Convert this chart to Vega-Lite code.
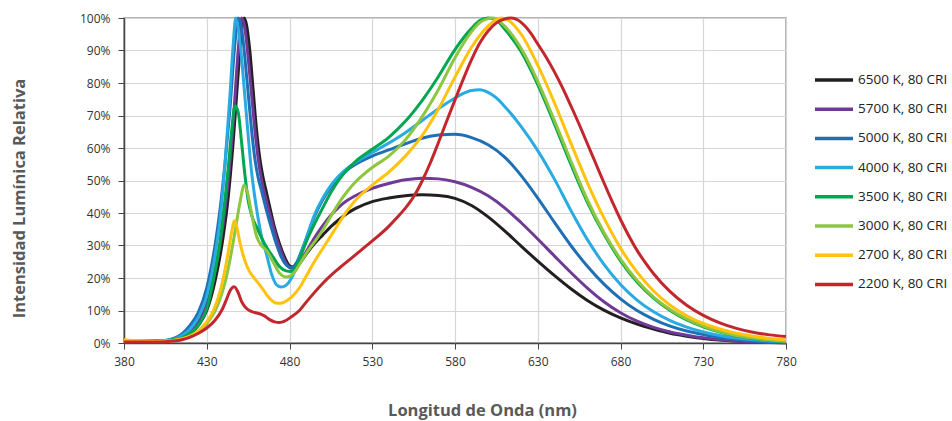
{
  "$schema": "https://vega.github.io/schema/vega-lite/v6.json",
  "width": 662,
  "height": 325,
  "autosize": {"type": "none"},
  "padding": {"left": 124, "top": 18, "right": 166, "bottom": 78},
  "background": "white",
  "config": {
    "view": {"stroke": "#9a9a9a", "strokeWidth": 1.5},
    "font": "Open Sans",
    "axis": {
      "labelFont": "Open Sans", "labelFontSize": 12, "labelColor": "#333333",
      "titleFont": "Open Sans", "titleFontSize": 16.5, "titleFontWeight": "bold", "titleColor": "#595959",
      "domainColor": "#444444", "domainWidth": 1.5, "tickColor": "#444444", "tickSize": 6,
      "gridColor": "#d6d6d6", "gridWidth": 1.2
    },
    "legend": {"labelFont": "Open Sans", "labelFontSize": 13.5, "labelColor": "#222222"}
  },
  "data": {"values": [
    {"s":"6500 K, 80 CRI","w":380,"v":0.4},{"s":"6500 K, 80 CRI","w":390,"v":0.4},{"s":"6500 K, 80 CRI","w":400,"v":0.5},{"s":"6500 K, 80 CRI","w":405,"v":0.6},{"s":"6500 K, 80 CRI","w":410,"v":0.9},{"s":"6500 K, 80 CRI","w":415,"v":1.5},{"s":"6500 K, 80 CRI","w":420,"v":2.8},{"s":"6500 K, 80 CRI","w":425,"v":5.5},{"s":"6500 K, 80 CRI","w":430,"v":10},{"s":"6500 K, 80 CRI","w":435,"v":19},{"s":"6500 K, 80 CRI","w":440,"v":33},{"s":"6500 K, 80 CRI","w":443,"v":45},{"s":"6500 K, 80 CRI","w":446,"v":62},{"s":"6500 K, 80 CRI","w":449,"v":83},{"s":"6500 K, 80 CRI","w":451,"v":96},{"s":"6500 K, 80 CRI","w":452.5,"v":100},{"s":"6500 K, 80 CRI","w":454,"v":98},{"s":"6500 K, 80 CRI","w":456,"v":90},{"s":"6500 K, 80 CRI","w":458,"v":78},{"s":"6500 K, 80 CRI","w":460,"v":66},{"s":"6500 K, 80 CRI","w":462,"v":57},{"s":"6500 K, 80 CRI","w":464,"v":51},{"s":"6500 K, 80 CRI","w":466,"v":46.5},{"s":"6500 K, 80 CRI","w":468,"v":42},{"s":"6500 K, 80 CRI","w":471,"v":35.5},{"s":"6500 K, 80 CRI","w":474,"v":30.5},{"s":"6500 K, 80 CRI","w":477,"v":26.5},{"s":"6500 K, 80 CRI","w":480,"v":23.8},{"s":"6500 K, 80 CRI","w":483,"v":23.3},{"s":"6500 K, 80 CRI","w":486,"v":24.5},{"s":"6500 K, 80 CRI","w":490,"v":27.3},{"s":"6500 K, 80 CRI","w":495,"v":30.5},{"s":"6500 K, 80 CRI","w":500,"v":33.2},{"s":"6500 K, 80 CRI","w":505,"v":35.8},{"s":"6500 K, 80 CRI","w":510,"v":38},{"s":"6500 K, 80 CRI","w":515,"v":39.9},{"s":"6500 K, 80 CRI","w":520,"v":41.4},{"s":"6500 K, 80 CRI","w":530,"v":43.5},{"s":"6500 K, 80 CRI","w":540,"v":44.6},{"s":"6500 K, 80 CRI","w":550,"v":45.3},{"s":"6500 K, 80 CRI","w":560,"v":45.6},{"s":"6500 K, 80 CRI","w":570,"v":45.4},{"s":"6500 K, 80 CRI","w":580,"v":44.5},{"s":"6500 K, 80 CRI","w":590,"v":42.3},{"s":"6500 K, 80 CRI","w":600,"v":38.8},{"s":"6500 K, 80 CRI","w":610,"v":34.5},{"s":"6500 K, 80 CRI","w":620,"v":29.8},{"s":"6500 K, 80 CRI","w":630,"v":25.2},{"s":"6500 K, 80 CRI","w":640,"v":20.8},{"s":"6500 K, 80 CRI","w":650,"v":16.7},{"s":"6500 K, 80 CRI","w":660,"v":13.1},{"s":"6500 K, 80 CRI","w":670,"v":10.1},{"s":"6500 K, 80 CRI","w":680,"v":7.7},{"s":"6500 K, 80 CRI","w":690,"v":5.8},{"s":"6500 K, 80 CRI","w":700,"v":4.3},{"s":"6500 K, 80 CRI","w":710,"v":3},{"s":"6500 K, 80 CRI","w":720,"v":2.1},{"s":"6500 K, 80 CRI","w":730,"v":1.4},{"s":"6500 K, 80 CRI","w":740,"v":0.9},{"s":"6500 K, 80 CRI","w":750,"v":0.6},{"s":"6500 K, 80 CRI","w":760,"v":0.4},{"s":"6500 K, 80 CRI","w":770,"v":0.2},{"s":"6500 K, 80 CRI","w":780,"v":0.1},

    {"s":"5700 K, 80 CRI","w":380,"v":0.4},{"s":"5700 K, 80 CRI","w":390,"v":0.4},{"s":"5700 K, 80 CRI","w":400,"v":0.5},{"s":"5700 K, 80 CRI","w":405,"v":0.6},{"s":"5700 K, 80 CRI","w":410,"v":1},{"s":"5700 K, 80 CRI","w":415,"v":1.8},{"s":"5700 K, 80 CRI","w":420,"v":3.3},{"s":"5700 K, 80 CRI","w":425,"v":6.5},{"s":"5700 K, 80 CRI","w":430,"v":12},{"s":"5700 K, 80 CRI","w":435,"v":22},{"s":"5700 K, 80 CRI","w":440,"v":37},{"s":"5700 K, 80 CRI","w":443,"v":50},{"s":"5700 K, 80 CRI","w":446,"v":68},{"s":"5700 K, 80 CRI","w":449,"v":90},{"s":"5700 K, 80 CRI","w":451,"v":100},{"s":"5700 K, 80 CRI","w":453,"v":97},{"s":"5700 K, 80 CRI","w":455,"v":88},{"s":"5700 K, 80 CRI","w":457,"v":77},{"s":"5700 K, 80 CRI","w":459,"v":66},{"s":"5700 K, 80 CRI","w":461,"v":57},{"s":"5700 K, 80 CRI","w":463,"v":50.5},{"s":"5700 K, 80 CRI","w":466,"v":44},{"s":"5700 K, 80 CRI","w":469,"v":38},{"s":"5700 K, 80 CRI","w":472,"v":32.5},{"s":"5700 K, 80 CRI","w":475,"v":28},{"s":"5700 K, 80 CRI","w":478,"v":24.5},{"s":"5700 K, 80 CRI","w":481,"v":23},{"s":"5700 K, 80 CRI","w":484,"v":23.5},{"s":"5700 K, 80 CRI","w":487,"v":25.5},{"s":"5700 K, 80 CRI","w":490,"v":28},{"s":"5700 K, 80 CRI","w":495,"v":32.3},{"s":"5700 K, 80 CRI","w":500,"v":36},{"s":"5700 K, 80 CRI","w":505,"v":39.3},{"s":"5700 K, 80 CRI","w":510,"v":41.9},{"s":"5700 K, 80 CRI","w":515,"v":43.9},{"s":"5700 K, 80 CRI","w":520,"v":45.4},{"s":"5700 K, 80 CRI","w":530,"v":47.6},{"s":"5700 K, 80 CRI","w":540,"v":49.1},{"s":"5700 K, 80 CRI","w":550,"v":50.2},{"s":"5700 K, 80 CRI","w":560,"v":50.7},{"s":"5700 K, 80 CRI","w":570,"v":50.5},{"s":"5700 K, 80 CRI","w":580,"v":49.6},{"s":"5700 K, 80 CRI","w":590,"v":47.9},{"s":"5700 K, 80 CRI","w":600,"v":45.3},{"s":"5700 K, 80 CRI","w":610,"v":41.6},{"s":"5700 K, 80 CRI","w":620,"v":37},{"s":"5700 K, 80 CRI","w":630,"v":32},{"s":"5700 K, 80 CRI","w":640,"v":26.8},{"s":"5700 K, 80 CRI","w":650,"v":21.7},{"s":"5700 K, 80 CRI","w":660,"v":16.9},{"s":"5700 K, 80 CRI","w":670,"v":12.7},{"s":"5700 K, 80 CRI","w":680,"v":9.3},{"s":"5700 K, 80 CRI","w":690,"v":6.7},{"s":"5700 K, 80 CRI","w":700,"v":4.8},{"s":"5700 K, 80 CRI","w":710,"v":3.4},{"s":"5700 K, 80 CRI","w":720,"v":2.4},{"s":"5700 K, 80 CRI","w":730,"v":1.6},{"s":"5700 K, 80 CRI","w":740,"v":1},{"s":"5700 K, 80 CRI","w":750,"v":0.6},{"s":"5700 K, 80 CRI","w":760,"v":0.3},{"s":"5700 K, 80 CRI","w":770,"v":0.15},{"s":"5700 K, 80 CRI","w":780,"v":0.05},

    {"s":"5000 K, 80 CRI","w":380,"v":0.5},{"s":"5000 K, 80 CRI","w":390,"v":0.5},{"s":"5000 K, 80 CRI","w":400,"v":0.6},{"s":"5000 K, 80 CRI","w":405,"v":0.8},{"s":"5000 K, 80 CRI","w":410,"v":1.4},{"s":"5000 K, 80 CRI","w":415,"v":2.8},{"s":"5000 K, 80 CRI","w":420,"v":5.5},{"s":"5000 K, 80 CRI","w":425,"v":9.5},{"s":"5000 K, 80 CRI","w":430,"v":17},{"s":"5000 K, 80 CRI","w":435,"v":30},{"s":"5000 K, 80 CRI","w":438,"v":41},{"s":"5000 K, 80 CRI","w":441,"v":55},{"s":"5000 K, 80 CRI","w":444,"v":72},{"s":"5000 K, 80 CRI","w":447,"v":92},{"s":"5000 K, 80 CRI","w":449,"v":100},{"s":"5000 K, 80 CRI","w":451,"v":97},{"s":"5000 K, 80 CRI","w":453,"v":88},{"s":"5000 K, 80 CRI","w":455,"v":77},{"s":"5000 K, 80 CRI","w":457,"v":66},{"s":"5000 K, 80 CRI","w":459,"v":57},{"s":"5000 K, 80 CRI","w":461,"v":51},{"s":"5000 K, 80 CRI","w":463,"v":47},{"s":"5000 K, 80 CRI","w":466,"v":41},{"s":"5000 K, 80 CRI","w":469,"v":35.5},{"s":"5000 K, 80 CRI","w":472,"v":30.5},{"s":"5000 K, 80 CRI","w":475,"v":26.5},{"s":"5000 K, 80 CRI","w":478,"v":24},{"s":"5000 K, 80 CRI","w":481,"v":23.2},{"s":"5000 K, 80 CRI","w":484,"v":24.5},{"s":"5000 K, 80 CRI","w":487,"v":28},{"s":"5000 K, 80 CRI","w":490,"v":32},{"s":"5000 K, 80 CRI","w":495,"v":38.8},{"s":"5000 K, 80 CRI","w":500,"v":44},{"s":"5000 K, 80 CRI","w":505,"v":48},{"s":"5000 K, 80 CRI","w":510,"v":51},{"s":"5000 K, 80 CRI","w":515,"v":53.3},{"s":"5000 K, 80 CRI","w":520,"v":55},{"s":"5000 K, 80 CRI","w":530,"v":57.5},{"s":"5000 K, 80 CRI","w":540,"v":59.4},{"s":"5000 K, 80 CRI","w":550,"v":61.3},{"s":"5000 K, 80 CRI","w":560,"v":63},{"s":"5000 K, 80 CRI","w":570,"v":64},{"s":"5000 K, 80 CRI","w":580,"v":64.2},{"s":"5000 K, 80 CRI","w":590,"v":63.2},{"s":"5000 K, 80 CRI","w":600,"v":61},{"s":"5000 K, 80 CRI","w":610,"v":57.2},{"s":"5000 K, 80 CRI","w":620,"v":51.5},{"s":"5000 K, 80 CRI","w":630,"v":44.6},{"s":"5000 K, 80 CRI","w":640,"v":37.2},{"s":"5000 K, 80 CRI","w":650,"v":30},{"s":"5000 K, 80 CRI","w":660,"v":23.6},{"s":"5000 K, 80 CRI","w":670,"v":18.1},{"s":"5000 K, 80 CRI","w":680,"v":13.6},{"s":"5000 K, 80 CRI","w":690,"v":10},{"s":"5000 K, 80 CRI","w":700,"v":7.3},{"s":"5000 K, 80 CRI","w":710,"v":5.2},{"s":"5000 K, 80 CRI","w":720,"v":3.7},{"s":"5000 K, 80 CRI","w":730,"v":2.6},{"s":"5000 K, 80 CRI","w":740,"v":1.7},{"s":"5000 K, 80 CRI","w":750,"v":1.1},{"s":"5000 K, 80 CRI","w":760,"v":0.6},{"s":"5000 K, 80 CRI","w":770,"v":0.3},{"s":"5000 K, 80 CRI","w":780,"v":0.2},

    {"s":"4000 K, 80 CRI","w":380,"v":0.5},{"s":"4000 K, 80 CRI","w":390,"v":0.5},{"s":"4000 K, 80 CRI","w":400,"v":0.6},{"s":"4000 K, 80 CRI","w":405,"v":0.8},{"s":"4000 K, 80 CRI","w":410,"v":1.2},{"s":"4000 K, 80 CRI","w":415,"v":2.3},{"s":"4000 K, 80 CRI","w":420,"v":4.3},{"s":"4000 K, 80 CRI","w":425,"v":8},{"s":"4000 K, 80 CRI","w":430,"v":14.5},{"s":"4000 K, 80 CRI","w":435,"v":27},{"s":"4000 K, 80 CRI","w":438,"v":38},{"s":"4000 K, 80 CRI","w":441,"v":55},{"s":"4000 K, 80 CRI","w":444,"v":76},{"s":"4000 K, 80 CRI","w":446,"v":92},{"s":"4000 K, 80 CRI","w":447.5,"v":100},{"s":"4000 K, 80 CRI","w":449,"v":97},{"s":"4000 K, 80 CRI","w":451,"v":88},{"s":"4000 K, 80 CRI","w":453,"v":76},{"s":"4000 K, 80 CRI","w":455,"v":64},{"s":"4000 K, 80 CRI","w":457,"v":53},{"s":"4000 K, 80 CRI","w":459,"v":45},{"s":"4000 K, 80 CRI","w":461,"v":38.5},{"s":"4000 K, 80 CRI","w":463,"v":33},{"s":"4000 K, 80 CRI","w":466,"v":27.5},{"s":"4000 K, 80 CRI","w":469,"v":21.5},{"s":"4000 K, 80 CRI","w":472,"v":18},{"s":"4000 K, 80 CRI","w":475,"v":17.2},{"s":"4000 K, 80 CRI","w":478,"v":17.8},{"s":"4000 K, 80 CRI","w":481,"v":19.8},{"s":"4000 K, 80 CRI","w":484,"v":23},{"s":"4000 K, 80 CRI","w":487,"v":27.5},{"s":"4000 K, 80 CRI","w":490,"v":32},{"s":"4000 K, 80 CRI","w":495,"v":39.3},{"s":"4000 K, 80 CRI","w":500,"v":44.5},{"s":"4000 K, 80 CRI","w":505,"v":48.5},{"s":"4000 K, 80 CRI","w":510,"v":51.5},{"s":"4000 K, 80 CRI","w":515,"v":53.8},{"s":"4000 K, 80 CRI","w":520,"v":55.6},{"s":"4000 K, 80 CRI","w":530,"v":58.6},{"s":"4000 K, 80 CRI","w":540,"v":61.5},{"s":"4000 K, 80 CRI","w":550,"v":64.7},{"s":"4000 K, 80 CRI","w":560,"v":68.4},{"s":"4000 K, 80 CRI","w":570,"v":72.1},{"s":"4000 K, 80 CRI","w":580,"v":75.4},{"s":"4000 K, 80 CRI","w":585,"v":76.8},{"s":"4000 K, 80 CRI","w":590,"v":77.7},{"s":"4000 K, 80 CRI","w":595,"v":77.9},{"s":"4000 K, 80 CRI","w":600,"v":77.1},{"s":"4000 K, 80 CRI","w":605,"v":75.4},{"s":"4000 K, 80 CRI","w":610,"v":72.8},{"s":"4000 K, 80 CRI","w":620,"v":66.6},{"s":"4000 K, 80 CRI","w":630,"v":59.2},{"s":"4000 K, 80 CRI","w":640,"v":50.5},{"s":"4000 K, 80 CRI","w":650,"v":40.8},{"s":"4000 K, 80 CRI","w":660,"v":31.8},{"s":"4000 K, 80 CRI","w":670,"v":24.2},{"s":"4000 K, 80 CRI","w":680,"v":18},{"s":"4000 K, 80 CRI","w":690,"v":13.2},{"s":"4000 K, 80 CRI","w":700,"v":9.6},{"s":"4000 K, 80 CRI","w":710,"v":6.9},{"s":"4000 K, 80 CRI","w":720,"v":4.9},{"s":"4000 K, 80 CRI","w":730,"v":3.4},{"s":"4000 K, 80 CRI","w":740,"v":2.3},{"s":"4000 K, 80 CRI","w":750,"v":1.5},{"s":"4000 K, 80 CRI","w":760,"v":1},{"s":"4000 K, 80 CRI","w":770,"v":0.6},{"s":"4000 K, 80 CRI","w":780,"v":0.4},

    {"s":"3500 K, 80 CRI","w":380,"v":0.8},{"s":"3500 K, 80 CRI","w":390,"v":0.6},{"s":"3500 K, 80 CRI","w":400,"v":0.6},{"s":"3500 K, 80 CRI","w":405,"v":0.7},{"s":"3500 K, 80 CRI","w":410,"v":1},{"s":"3500 K, 80 CRI","w":415,"v":1.6},{"s":"3500 K, 80 CRI","w":420,"v":3},{"s":"3500 K, 80 CRI","w":425,"v":5.5},{"s":"3500 K, 80 CRI","w":430,"v":10.5},{"s":"3500 K, 80 CRI","w":435,"v":22},{"s":"3500 K, 80 CRI","w":438,"v":31},{"s":"3500 K, 80 CRI","w":441,"v":44},{"s":"3500 K, 80 CRI","w":443,"v":54},{"s":"3500 K, 80 CRI","w":445,"v":65},{"s":"3500 K, 80 CRI","w":447,"v":73},{"s":"3500 K, 80 CRI","w":449,"v":71},{"s":"3500 K, 80 CRI","w":451,"v":62},{"s":"3500 K, 80 CRI","w":453,"v":52},{"s":"3500 K, 80 CRI","w":455,"v":44},{"s":"3500 K, 80 CRI","w":457,"v":39.5},{"s":"3500 K, 80 CRI","w":460,"v":35.8},{"s":"3500 K, 80 CRI","w":463,"v":32.5},{"s":"3500 K, 80 CRI","w":466,"v":29.6},{"s":"3500 K, 80 CRI","w":470,"v":26.5},{"s":"3500 K, 80 CRI","w":474,"v":23.5},{"s":"3500 K, 80 CRI","w":478,"v":22.2},{"s":"3500 K, 80 CRI","w":481,"v":22},{"s":"3500 K, 80 CRI","w":484,"v":23.5},{"s":"3500 K, 80 CRI","w":487,"v":27},{"s":"3500 K, 80 CRI","w":490,"v":31},{"s":"3500 K, 80 CRI","w":495,"v":36.5},{"s":"3500 K, 80 CRI","w":500,"v":41.5},{"s":"3500 K, 80 CRI","w":505,"v":46.3},{"s":"3500 K, 80 CRI","w":510,"v":50.3},{"s":"3500 K, 80 CRI","w":515,"v":53.4},{"s":"3500 K, 80 CRI","w":520,"v":55.9},{"s":"3500 K, 80 CRI","w":530,"v":59.6},{"s":"3500 K, 80 CRI","w":540,"v":63.3},{"s":"3500 K, 80 CRI","w":550,"v":68.2},{"s":"3500 K, 80 CRI","w":560,"v":74.5},{"s":"3500 K, 80 CRI","w":570,"v":82},{"s":"3500 K, 80 CRI","w":580,"v":90.3},{"s":"3500 K, 80 CRI","w":590,"v":96.8},{"s":"3500 K, 80 CRI","w":595,"v":99.2},{"s":"3500 K, 80 CRI","w":600,"v":100},{"s":"3500 K, 80 CRI","w":605,"v":99.3},{"s":"3500 K, 80 CRI","w":610,"v":96.6},{"s":"3500 K, 80 CRI","w":620,"v":89.6},{"s":"3500 K, 80 CRI","w":630,"v":79.5},{"s":"3500 K, 80 CRI","w":640,"v":67.5},{"s":"3500 K, 80 CRI","w":650,"v":55},{"s":"3500 K, 80 CRI","w":660,"v":43.3},{"s":"3500 K, 80 CRI","w":670,"v":33.5},{"s":"3500 K, 80 CRI","w":680,"v":25.3},{"s":"3500 K, 80 CRI","w":690,"v":18.8},{"s":"3500 K, 80 CRI","w":700,"v":13.8},{"s":"3500 K, 80 CRI","w":710,"v":10},{"s":"3500 K, 80 CRI","w":720,"v":7.1},{"s":"3500 K, 80 CRI","w":730,"v":5},{"s":"3500 K, 80 CRI","w":740,"v":3.4},{"s":"3500 K, 80 CRI","w":750,"v":2.2},{"s":"3500 K, 80 CRI","w":760,"v":1.4},{"s":"3500 K, 80 CRI","w":770,"v":0.8},{"s":"3500 K, 80 CRI","w":780,"v":0.4},

    {"s":"3000 K, 80 CRI","w":380,"v":0.6},{"s":"3000 K, 80 CRI","w":390,"v":0.5},{"s":"3000 K, 80 CRI","w":400,"v":0.5},{"s":"3000 K, 80 CRI","w":405,"v":0.6},{"s":"3000 K, 80 CRI","w":410,"v":0.8},{"s":"3000 K, 80 CRI","w":415,"v":1.2},{"s":"3000 K, 80 CRI","w":420,"v":2},{"s":"3000 K, 80 CRI","w":425,"v":3.5},{"s":"3000 K, 80 CRI","w":430,"v":6},{"s":"3000 K, 80 CRI","w":435,"v":9.8},{"s":"3000 K, 80 CRI","w":438,"v":13.5},{"s":"3000 K, 80 CRI","w":441,"v":18.5},{"s":"3000 K, 80 CRI","w":444,"v":25.5},{"s":"3000 K, 80 CRI","w":447,"v":34},{"s":"3000 K, 80 CRI","w":450,"v":43},{"s":"3000 K, 80 CRI","w":452.7,"v":48.6},{"s":"3000 K, 80 CRI","w":455,"v":45.5},{"s":"3000 K, 80 CRI","w":457,"v":40},{"s":"3000 K, 80 CRI","w":460,"v":33},{"s":"3000 K, 80 CRI","w":463,"v":30},{"s":"3000 K, 80 CRI","w":466,"v":28.5},{"s":"3000 K, 80 CRI","w":470,"v":25},{"s":"3000 K, 80 CRI","w":474,"v":21.5},{"s":"3000 K, 80 CRI","w":478,"v":20.3},{"s":"3000 K, 80 CRI","w":481,"v":20.8},{"s":"3000 K, 80 CRI","w":484,"v":22.5},{"s":"3000 K, 80 CRI","w":487,"v":25},{"s":"3000 K, 80 CRI","w":490,"v":27.5},{"s":"3000 K, 80 CRI","w":495,"v":31},{"s":"3000 K, 80 CRI","w":500,"v":34.7},{"s":"3000 K, 80 CRI","w":505,"v":39},{"s":"3000 K, 80 CRI","w":510,"v":43.2},{"s":"3000 K, 80 CRI","w":515,"v":46.7},{"s":"3000 K, 80 CRI","w":520,"v":49.6},{"s":"3000 K, 80 CRI","w":530,"v":54},{"s":"3000 K, 80 CRI","w":540,"v":57.5},{"s":"3000 K, 80 CRI","w":550,"v":62.5},{"s":"3000 K, 80 CRI","w":560,"v":69.5},{"s":"3000 K, 80 CRI","w":570,"v":78},{"s":"3000 K, 80 CRI","w":580,"v":87.8},{"s":"3000 K, 80 CRI","w":590,"v":95.8},{"s":"3000 K, 80 CRI","w":595,"v":98.6},{"s":"3000 K, 80 CRI","w":600,"v":99.8},{"s":"3000 K, 80 CRI","w":603,"v":100},{"s":"3000 K, 80 CRI","w":610,"v":97.5},{"s":"3000 K, 80 CRI","w":620,"v":90.6},{"s":"3000 K, 80 CRI","w":630,"v":80.5},{"s":"3000 K, 80 CRI","w":640,"v":68.5},{"s":"3000 K, 80 CRI","w":650,"v":56},{"s":"3000 K, 80 CRI","w":660,"v":44},{"s":"3000 K, 80 CRI","w":670,"v":34},{"s":"3000 K, 80 CRI","w":680,"v":25.8},{"s":"3000 K, 80 CRI","w":690,"v":19.2},{"s":"3000 K, 80 CRI","w":700,"v":14.1},{"s":"3000 K, 80 CRI","w":710,"v":10.3},{"s":"3000 K, 80 CRI","w":720,"v":7.4},{"s":"3000 K, 80 CRI","w":730,"v":5.2},{"s":"3000 K, 80 CRI","w":740,"v":3.5},{"s":"3000 K, 80 CRI","w":750,"v":2.3},{"s":"3000 K, 80 CRI","w":760,"v":1.5},{"s":"3000 K, 80 CRI","w":770,"v":0.9},{"s":"3000 K, 80 CRI","w":780,"v":0.5},

    {"s":"2700 K, 80 CRI","w":380,"v":1},{"s":"2700 K, 80 CRI","w":390,"v":0.6},{"s":"2700 K, 80 CRI","w":400,"v":0.5},{"s":"2700 K, 80 CRI","w":405,"v":0.6},{"s":"2700 K, 80 CRI","w":410,"v":0.8},{"s":"2700 K, 80 CRI","w":415,"v":1.3},{"s":"2700 K, 80 CRI","w":420,"v":2.2},{"s":"2700 K, 80 CRI","w":425,"v":3.8},{"s":"2700 K, 80 CRI","w":430,"v":6.5},{"s":"2700 K, 80 CRI","w":434,"v":10},{"s":"2700 K, 80 CRI","w":437,"v":14},{"s":"2700 K, 80 CRI","w":440,"v":20},{"s":"2700 K, 80 CRI","w":443,"v":28},{"s":"2700 K, 80 CRI","w":445,"v":34},{"s":"2700 K, 80 CRI","w":446.6,"v":37.6},{"s":"2700 K, 80 CRI","w":448,"v":36},{"s":"2700 K, 80 CRI","w":450,"v":31},{"s":"2700 K, 80 CRI","w":452,"v":27},{"s":"2700 K, 80 CRI","w":455,"v":22.8},{"s":"2700 K, 80 CRI","w":458,"v":20.4},{"s":"2700 K, 80 CRI","w":461,"v":18.5},{"s":"2700 K, 80 CRI","w":464,"v":16.5},{"s":"2700 K, 80 CRI","w":467,"v":14.3},{"s":"2700 K, 80 CRI","w":470,"v":12.8},{"s":"2700 K, 80 CRI","w":473,"v":12.2},{"s":"2700 K, 80 CRI","w":476,"v":12.4},{"s":"2700 K, 80 CRI","w":479,"v":13.2},{"s":"2700 K, 80 CRI","w":482,"v":14.5},{"s":"2700 K, 80 CRI","w":486,"v":17},{"s":"2700 K, 80 CRI","w":490,"v":20.5},{"s":"2700 K, 80 CRI","w":495,"v":25},{"s":"2700 K, 80 CRI","w":500,"v":29},{"s":"2700 K, 80 CRI","w":505,"v":33},{"s":"2700 K, 80 CRI","w":510,"v":37},{"s":"2700 K, 80 CRI","w":515,"v":40.8},{"s":"2700 K, 80 CRI","w":520,"v":44},{"s":"2700 K, 80 CRI","w":530,"v":48.6},{"s":"2700 K, 80 CRI","w":540,"v":52.6},{"s":"2700 K, 80 CRI","w":550,"v":57.5},{"s":"2700 K, 80 CRI","w":560,"v":63.7},{"s":"2700 K, 80 CRI","w":570,"v":72},{"s":"2700 K, 80 CRI","w":580,"v":81.8},{"s":"2700 K, 80 CRI","w":590,"v":91},{"s":"2700 K, 80 CRI","w":600,"v":97.5},{"s":"2700 K, 80 CRI","w":605,"v":99.5},{"s":"2700 K, 80 CRI","w":608,"v":100},{"s":"2700 K, 80 CRI","w":612,"v":99.4},{"s":"2700 K, 80 CRI","w":620,"v":95},{"s":"2700 K, 80 CRI","w":630,"v":85.5},{"s":"2700 K, 80 CRI","w":640,"v":74},{"s":"2700 K, 80 CRI","w":650,"v":61.5},{"s":"2700 K, 80 CRI","w":660,"v":49.3},{"s":"2700 K, 80 CRI","w":670,"v":38.5},{"s":"2700 K, 80 CRI","w":680,"v":29.2},{"s":"2700 K, 80 CRI","w":690,"v":21.8},{"s":"2700 K, 80 CRI","w":700,"v":16},{"s":"2700 K, 80 CRI","w":710,"v":11.6},{"s":"2700 K, 80 CRI","w":720,"v":8.4},{"s":"2700 K, 80 CRI","w":730,"v":6},{"s":"2700 K, 80 CRI","w":740,"v":4.3},{"s":"2700 K, 80 CRI","w":750,"v":3},{"s":"2700 K, 80 CRI","w":760,"v":2.1},{"s":"2700 K, 80 CRI","w":770,"v":1.4},{"s":"2700 K, 80 CRI","w":780,"v":1},

    {"s":"2200 K, 80 CRI","w":380,"v":0.3},{"s":"2200 K, 80 CRI","w":390,"v":0.3},{"s":"2200 K, 80 CRI","w":400,"v":0.3},{"s":"2200 K, 80 CRI","w":405,"v":0.4},{"s":"2200 K, 80 CRI","w":410,"v":0.6},{"s":"2200 K, 80 CRI","w":415,"v":1},{"s":"2200 K, 80 CRI","w":420,"v":1.8},{"s":"2200 K, 80 CRI","w":425,"v":3},{"s":"2200 K, 80 CRI","w":430,"v":4.6},{"s":"2200 K, 80 CRI","w":435,"v":7},{"s":"2200 K, 80 CRI","w":439,"v":10},{"s":"2200 K, 80 CRI","w":442,"v":13.5},{"s":"2200 K, 80 CRI","w":444,"v":16},{"s":"2200 K, 80 CRI","w":446.6,"v":17.3},{"s":"2200 K, 80 CRI","w":449,"v":15.5},{"s":"2200 K, 80 CRI","w":451,"v":12.8},{"s":"2200 K, 80 CRI","w":453,"v":11.2},{"s":"2200 K, 80 CRI","w":456,"v":9.9},{"s":"2200 K, 80 CRI","w":459,"v":9.4},{"s":"2200 K, 80 CRI","w":462,"v":9},{"s":"2200 K, 80 CRI","w":465,"v":8.3},{"s":"2200 K, 80 CRI","w":468,"v":7.2},{"s":"2200 K, 80 CRI","w":471,"v":6.5},{"s":"2200 K, 80 CRI","w":474,"v":6.3},{"s":"2200 K, 80 CRI","w":477,"v":6.7},{"s":"2200 K, 80 CRI","w":481,"v":8},{"s":"2200 K, 80 CRI","w":486,"v":10},{"s":"2200 K, 80 CRI","w":490,"v":12.5},{"s":"2200 K, 80 CRI","w":495,"v":15.5},{"s":"2200 K, 80 CRI","w":500,"v":18.3},{"s":"2200 K, 80 CRI","w":505,"v":20.8},{"s":"2200 K, 80 CRI","w":510,"v":23},{"s":"2200 K, 80 CRI","w":515,"v":25.1},{"s":"2200 K, 80 CRI","w":520,"v":27.2},{"s":"2200 K, 80 CRI","w":530,"v":31.4},{"s":"2200 K, 80 CRI","w":540,"v":35.9},{"s":"2200 K, 80 CRI","w":545,"v":38.6},{"s":"2200 K, 80 CRI","w":550,"v":41.5},{"s":"2200 K, 80 CRI","w":555,"v":45},{"s":"2200 K, 80 CRI","w":560,"v":49.7},{"s":"2200 K, 80 CRI","w":565,"v":55.3},{"s":"2200 K, 80 CRI","w":570,"v":61.7},{"s":"2200 K, 80 CRI","w":575,"v":68.3},{"s":"2200 K, 80 CRI","w":580,"v":74.8},{"s":"2200 K, 80 CRI","w":585,"v":81.2},{"s":"2200 K, 80 CRI","w":590,"v":87.2},{"s":"2200 K, 80 CRI","w":595,"v":92.3},{"s":"2200 K, 80 CRI","w":600,"v":96},{"s":"2200 K, 80 CRI","w":605,"v":98.5},{"s":"2200 K, 80 CRI","w":610,"v":99.7},{"s":"2200 K, 80 CRI","w":614,"v":100},{"s":"2200 K, 80 CRI","w":618,"v":99.4},{"s":"2200 K, 80 CRI","w":622,"v":97.7},{"s":"2200 K, 80 CRI","w":626,"v":95.2},{"s":"2200 K, 80 CRI","w":630,"v":92},{"s":"2200 K, 80 CRI","w":635,"v":88},{"s":"2200 K, 80 CRI","w":640,"v":83.5},{"s":"2200 K, 80 CRI","w":645,"v":78.5},{"s":"2200 K, 80 CRI","w":650,"v":73},{"s":"2200 K, 80 CRI","w":655,"v":67.3},{"s":"2200 K, 80 CRI","w":660,"v":61.3},{"s":"2200 K, 80 CRI","w":665,"v":55.3},{"s":"2200 K, 80 CRI","w":670,"v":49.3},{"s":"2200 K, 80 CRI","w":675,"v":43.5},{"s":"2200 K, 80 CRI","w":680,"v":38},{"s":"2200 K, 80 CRI","w":685,"v":33},{"s":"2200 K, 80 CRI","w":690,"v":28.5},{"s":"2200 K, 80 CRI","w":695,"v":24.7},{"s":"2200 K, 80 CRI","w":700,"v":21.3},{"s":"2200 K, 80 CRI","w":710,"v":15.8},{"s":"2200 K, 80 CRI","w":720,"v":11.6},{"s":"2200 K, 80 CRI","w":730,"v":8.5},{"s":"2200 K, 80 CRI","w":740,"v":6.2},{"s":"2200 K, 80 CRI","w":750,"v":4.5},{"s":"2200 K, 80 CRI","w":760,"v":3.3},{"s":"2200 K, 80 CRI","w":770,"v":2.5},{"s":"2200 K, 80 CRI","w":780,"v":2}
  ]},
  "mark": {"type": "line", "strokeWidth": 3, "interpolate": "monotone", "clip": false},
  "encoding": {
    "x": {
      "field": "w", "type": "quantitative",
      "scale": {"domain": [380, 780], "nice": false, "zero": false},
      "axis": {
        "title": "Longitud de Onda (nm)",
        "values": [380, 430, 480, 530, 580, 630, 680, 730, 780],
        "labelPadding": 7, "labelFlush": false,
        "titleX": 358, "titleY": 67, "titleBaseline": "middle", "titleAnchor": "middle", "titleAlign": "center"
      }
    },
    "y": {
      "field": "v", "type": "quantitative",
      "scale": {"domain": [0, 100], "nice": false},
      "axis": {
        "title": "Intensidad Lumínica Relativa",
        "values": [0, 10, 20, 30, 40, 50, 60, 70, 80, 90, 100],
        "labelExpr": "datum.value + '%'",
        "labelPadding": 8, "labelFlush": false,
        "titleAngle": 270, "titleX": -105, "titleY": 180, "titleAlign": "center", "titleBaseline": "middle", "titleAnchor": "middle"
      }
    },
    "color": {
      "field": "s", "type": "nominal",
      "scale": {
        "domain": ["6500 K, 80 CRI", "5700 K, 80 CRI", "5000 K, 80 CRI", "4000 K, 80 CRI", "3500 K, 80 CRI", "3000 K, 80 CRI", "2700 K, 80 CRI", "2200 K, 80 CRI"],
        "range": ["#231f20", "#6f3996", "#1f6fb5", "#29abe2", "#00a651", "#8dc63f", "#ffc20e", "#c1272d"]
      },
      "legend": {
        "title": null, "orient": "none", "legendX": 689, "legendY": 41,
        "symbolType": "stroke", "symbolSize": 1444, "symbolStrokeWidth": 3.5,
        "labelOffset": 3, "rowPadding": 1.2, "labelLimit": 200
      }
    }
  }
}
